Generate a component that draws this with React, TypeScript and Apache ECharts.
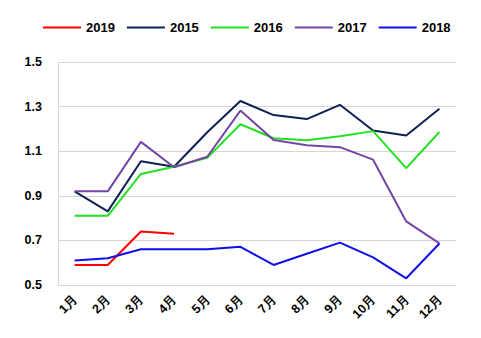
import React, { useEffect, useRef } from "react";
import * as echarts from "echarts";

const months = ["1月", "2月", "3月", "4月", "5月", "6月", "7月", "8月", "9月", "10月", "11月", "12月"];
const s2019 = [0.59, 0.59, 0.74, 0.73];
const s2015 = [0.92, 0.83, 1.055, 1.03, 1.185, 1.325, 1.262, 1.244, 1.308, 1.193, 1.17, 1.29];
const s2016 = [0.81, 0.81, 0.998, 1.03, 1.07, 1.221, 1.158, 1.149, 1.167, 1.19, 1.024, 1.186];
const s2017 = [0.92, 0.92, 1.142, 1.028, 1.075, 1.282, 1.15, 1.127, 1.118, 1.062, 0.785, 0.687];
const s2018 = [0.61, 0.62, 0.66, 0.66, 0.66, 0.671, 0.59, 0.64, 0.69, 0.624, 0.53, 0.686];
const yTicks = [0.5, 0.7, 0.9, 1.1, 1.3, 1.5];

const seriesDefs = [
  { name: "2019", data: s2019, color: "#ff0000" },
  { name: "2015", data: s2015, color: "#0e2152" },
  { name: "2016", data: s2016, color: "#22e022" },
  { name: "2017", data: s2017, color: "#7446a4" },
  { name: "2018", data: s2018, color: "#1010e8" },
];

export default function App() {
  const ref = useRef<HTMLDivElement>(null);
  useEffect(() => {
    if (!ref.current) return;
    const chart = echarts.init(ref.current, null, { renderer: "svg" });
    const font = "Liberation Sans";
    chart.setOption({
      animation: false,
      textStyle: { fontFamily: font },
      legend: {
        top: 16,
        left: 38,
        itemWidth: 38,
        itemHeight: 10,
        itemGap: 12,
        icon: "path://M0,4 L38,4 L38,6 L0,6 Z",
        textStyle: { fontFamily: font, fontSize: 13, fontWeight: "bold", color: "#000" },
        data: seriesDefs.map((s) => s.name),
      },
      grid: { left: 58, right: 25, top: 62, bottom: 53 },
      xAxis: {
        type: "category",
        data: months,
        boundaryGap: true,
        axisLine: { show: true, lineStyle: { color: "#d9d6cf", width: 1 } },
        axisTick: { show: false },
        axisLabel: {
          rotate: 45,
          margin: 13,
          fontFamily: font,
          fontSize: 12.5,
          fontWeight: "bold",
          color: "#000",
          interval: 0,
        },
      },
      yAxis: {
        type: "value",
        min: 0.5,
        max: 1.5,
        interval: 0.2,
        axisLine: { show: true, lineStyle: { color: "#d9d6cf", width: 1 } },
        axisTick: { show: false },
        splitLine: { show: true, lineStyle: { color: "#d9d6cf", width: 1 } },
        axisLabel: {
          margin: 16,
          fontFamily: font,
          fontSize: 12.5,
          fontWeight: "bold",
          color: "#000",
          formatter: (v: number) => (yTicks.some((t) => Math.abs(t - v) < 1e-6) ? v.toFixed(1) : ""),
        },
      },
      series: seriesDefs.map((s) => ({
        name: s.name,
        type: "line",
        data: s.data,
        symbol: "none",
        color: s.color,
        lineStyle: { color: s.color, width: 2 },
      })),
    });
    return () => chart.dispose();
  }, []);
  return <div ref={ref} style={{ width: 481, height: 338, position: "absolute", left: 0, top: 0 }} />;
}
